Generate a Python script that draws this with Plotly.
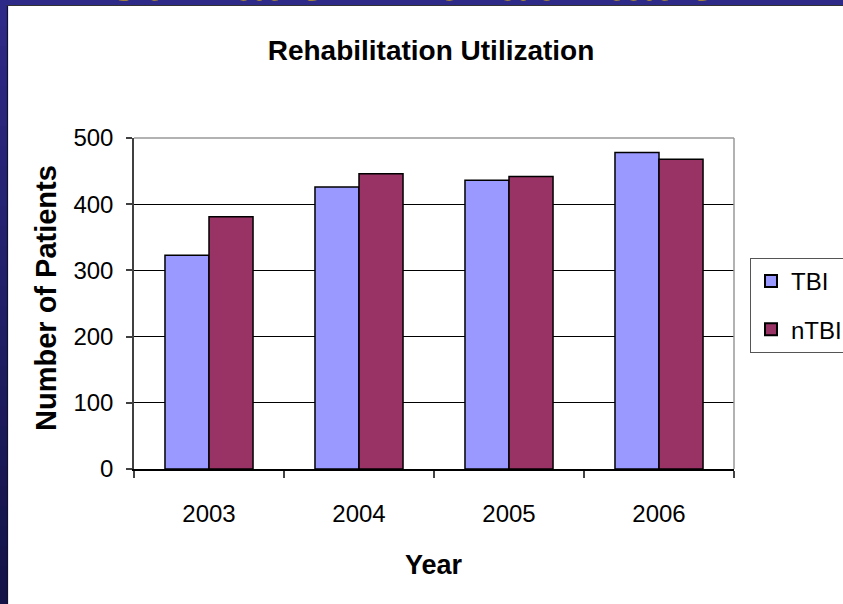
import plotly.graph_objects as go

# data
years = ['2003', '2004', '2005', '2006']
tbi = [323, 426, 436, 478]
ntbi = [381, 446, 442, 468]

W, H = 843, 604
# plot area in pixels
PX0, PX1 = 134, 734
PY_TOP, PY_BOT = 138, 469


def px(x):
    return (x - PX0) / (PX1 - PX0)


def py(y):
    return (PY_BOT - y) / (PY_BOT - PY_TOP)


fig = go.Figure()
fig.add_trace(go.Bar(
    x=years, y=tbi, name='TBI', legendgroup='a',
    marker=dict(color='#9999FF', line=dict(color='black', width=1.5))
))
fig.add_trace(go.Bar(
    x=years, y=ntbi, name='nTBI', legendgroup='b',
    marker=dict(color='#993366', line=dict(color='black', width=1.5))
))

shapes = []
# white slide panel
shapes.append(dict(type='rect', xref='paper', yref='paper', layer='below',
                   x0=px(8), x1=px(900), y0=py(650), y1=py(6),
                   fillcolor='white', line=dict(width=0)))
# gradient on the left strip
n = 30
top_c, bot_c = (46, 42, 135), (20, 20, 72)
for i in range(n):
    t = i / (n - 1)
    c = tuple(int(top_c[k] + (bot_c[k] - top_c[k]) * t) for k in range(3))
    shapes.append(dict(type='rect', xref='paper', yref='paper', layer='below',
                       x0=px(0), x1=px(7), y0=py(6 + (i + 1) * 600 / n), y1=py(6 + i * 600 / n),
                       fillcolor='rgb(%d,%d,%d)' % c, line=dict(width=0)))
shapes.append(dict(type='line', xref='paper', yref='paper', layer='below',
                   x0=px(7.5), x1=px(7.5), y0=py(610), y1=py(5),
                   line=dict(color='#101030', width=1.2)))
shapes.append(dict(type='line', xref='paper', yref='paper', layer='below',
                   x0=px(7), x1=px(850), y0=py(5.5), y1=py(5.5),
                   line=dict(color='#333333', width=1.2)))
# plot-area border (top / right)
shapes.append(dict(type='line', xref='paper', yref='paper', layer='above',
                   x0=0, x1=1, y0=1, y1=1, line=dict(color='#999999', width=1.5)))
shapes.append(dict(type='line', xref='paper', yref='paper', layer='above',
                   x0=1, x1=1, y0=0, y1=1, line=dict(color='#999999', width=1.5)))

annotations = [
    # slide heading, mostly cut off by the top edge
    dict(text='<b>Utilization: Rehabilitation</b>', xref='paper', yref='paper',
         x=px(428), y=py(3), xanchor='center', yanchor='bottom', showarrow=False,
         yshift=-10, font=dict(family='Liberation Sans', size=54, color='#FFCC00')),
    dict(text='<b>Number of Patients</b>', xref='paper', yref='paper',
         x=px(46), y=py(298), xanchor='center', yanchor='middle', textangle=-90,
         showarrow=False, font=dict(family='Liberation Sans', size=29, color='black')),
    dict(text='<b>Year</b>', xref='paper', yref='paper',
         x=px(434), y=py(565), xanchor='center', yanchor='middle',
         showarrow=False, font=dict(family='Liberation Sans', size=27, color='black')),
]

fig.update_layout(
    width=W, height=H,
    margin=dict(l=PX0, r=W - PX1, t=PY_TOP, b=H - PY_BOT, pad=0, autoexpand=False),
    paper_bgcolor='#2E2A87',
    plot_bgcolor='rgba(0,0,0,0)',
    barmode='group', bargap=0.413, bargroupgap=0,
    title=dict(text='<b>Rehabilitation Utilization</b>', xref='paper', x=px(431),
               xanchor='center', yref='container', y=1 - 50 / H, yanchor='middle',
               font=dict(family='Liberation Sans', size=28, color='black')),
    font=dict(family='Liberation Sans', color='black'),
    showlegend=True,
    legend=dict(xref='container', yref='container', x=750 / W, y=1 - 258 / H,
                xanchor='left', yanchor='top',
                bgcolor='white', bordercolor='#555555', borderwidth=1,
                font=dict(size=24, color='black'), tracegroupgap=14,
                itemsizing='constant', itemwidth=30),
    shapes=shapes,
    annotations=annotations,
)

fig.update_xaxes(
    showline=True, linecolor='black', linewidth=1.5,
    ticks='outside', ticklen=7, tickcolor='#444444', tickwidth=1.5,
    tickson='boundaries', ticklabelstandoff=22,
    tickfont=dict(size=24, color='black'), showgrid=False,
)
fig.update_yaxes(
    range=[0, 500], tickvals=[0, 100, 200, 300, 400, 500],
    showline=True, linecolor='#404040', linewidth=1.5,
    ticks='outside', ticklen=6, tickcolor='#404040', tickwidth=1.5,
    ticklabelstandoff=8,
    tickfont=dict(size=24, color='black'),
    showgrid=True, gridcolor='black', gridwidth=1, zeroline=False,
)

# drop the default page margin so the figure sits at the window corner
fig.write_html("out.html", config={'displayModeBar': False},
               post_script="document.body.style.margin='0';document.body.style.overflow='hidden';")
